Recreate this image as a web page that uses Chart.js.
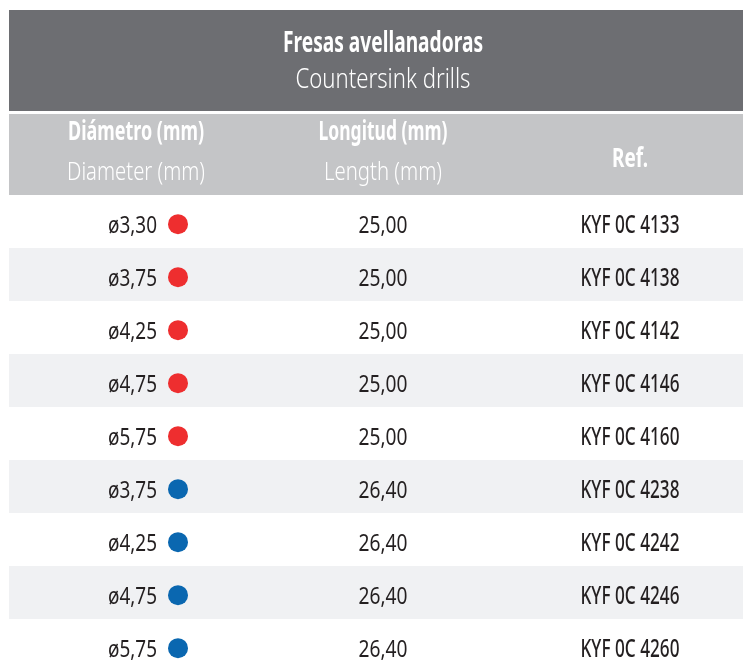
<!DOCTYPE html>
<html>
<head>
<meta charset="utf-8">
<script src="https://cdn.jsdelivr.net/npm/chart.js@4.4.0/dist/chart.umd.min.js"></script>
<style>
  html, body { margin: 0; padding: 0; background: #fff; }
  canvas { display: block; }
</style>
</head>
<body>
<canvas id="tabla" width="743" height="660"></canvas>
<script>
// Datos de la tabla
const titulo = ['Fresas avellanadoras', 'Countersink drills'];
const cabeceras = [
    ['Diámetro (mm)', 'Diameter (mm)'],
    ['Longitud (mm)', 'Length (mm)'],
    ['Ref.']
];
const diametros = ['ø3,30', 'ø3,75', 'ø4,25', 'ø4,75', 'ø5,75', 'ø3,75', 'ø4,25', 'ø4,75', 'ø5,75'];
const longitudes = ['25,00', '25,00', '25,00', '25,00', '25,00', '26,40', '26,40', '26,40', '26,40'];
const referencias = ['KYF 0C 4133', 'KYF 0C 4138', 'KYF 0C 4142', 'KYF 0C 4146', 'KYF 0C 4160',
                     'KYF 0C 4238', 'KYF 0C 4242', 'KYF 0C 4246', 'KYF 0C 4260'];
const grupos = ['rojo', 'rojo', 'rojo', 'rojo', 'rojo', 'azul', 'azul', 'azul', 'azul'];

const colores = { rojo: '#ee2e2f', azul: '#0a67b0' };
const ALTO_FILA = 53;
const INICIO_FILAS = 195;
const COL_ANCHO = 247;     // distancia entre centros de columna
const COL0 = 136;          // centro de la primera columna
const IZQ = 9;
const PUNTO_X = (178 - COL0) / COL_ANCHO;  // el punto va a la derecha del diámetro

const fuente = "'Noto Sans', 'DejaVu Sans', sans-serif";
const colorTexto = '#231f20';

// dibuja texto comprimido horizontalmente; si se da ancho, se ajusta a él
function texto(ctx, s, x, y, font, color, align, sx, ancho) {
    ctx.save();
    ctx.font = font;
    ctx.fillStyle = color;
    ctx.textAlign = align;
    ctx.textBaseline = 'alphabetic';
    if (ancho) sx = ancho / ctx.measureText(s).width;
    ctx.translate(x, y);
    ctx.scale(sx, 1);
    ctx.fillText(s, 0, 0);
    ctx.restore();
}

function escala(ctx, muestra, font, ancho) {
    ctx.save();
    ctx.font = font;
    const w = ctx.measureText(muestra).width;
    ctx.restore();
    return ancho / w;
}

const tablaPlugin = {
    id: 'tabla',
    beforeDraw(chart) {
        const ctx = chart.ctx;
        const area = chart.chartArea;
        const x = chart.scales.x;
        const y = chart.scales.y;

        ctx.save();
        ctx.fillStyle = '#ffffff';
        ctx.fillRect(0, 0, chart.width, chart.height);

        // cabeceras
        ctx.fillStyle = '#6d6e72';
        ctx.fillRect(area.left, 10, area.right - area.left, 101);
        ctx.fillStyle = '#c4c5c7';
        ctx.fillRect(area.left, 114, area.right - area.left, INICIO_FILAS - 114);

        // filas alternas
        ctx.fillStyle = '#f0f1f3';
        diametros.forEach((d, i) => {
            if (i % 2 === 1) {
                const y0 = y.getPixelForValue(i - 0.5);
                const y1 = y.getPixelForValue(i + 0.5);
                ctx.fillRect(area.left, y0, area.right - area.left, y1 - y0);
            }
        });
        ctx.restore();

        const cx = x.getPixelForValue(1);
        texto(ctx, titulo[0], cx, 52, "bold 28px " + fuente, '#ffffff', 'center', 1, 200);
        texto(ctx, titulo[1], cx, 88, "300 28px " + fuente, '#ffffff', 'center', 1, 175);

        const anchos = [[136, 138], [129, 118], [36]];
        cabeceras.forEach((c, j) => {
            const px = x.getPixelForValue(j);
            if (c.length === 2) {
                texto(ctx, c[0], px, 140, "bold 26px " + fuente, '#ffffff', 'center', 1, anchos[j][0]);
                texto(ctx, c[1], px, 180, "300 26px " + fuente, '#ffffff', 'center', 1, anchos[j][1]);
            } else {
                texto(ctx, c[0], px, 167, "bold 26px " + fuente, '#ffffff', 'center', 1, anchos[j][0]);
            }
        });

        // celdas
        const f = "24px " + fuente;
        const fr = "500 26px " + fuente;
        const sxD = escala(ctx, 'ø3,30', f, 49);
        const sxL = escala(ctx, '25,00', f, 49);
        const sxR = escala(ctx, 'KYF 0C 4133', fr, 99);
        diametros.forEach((d, i) => {
            const py = y.getPixelForValue(i) + 11;
            texto(ctx, d, x.getPixelForValue(0) + 21, py, f, colorTexto, 'right', sxD);
            texto(ctx, longitudes[i], x.getPixelForValue(1), py, f, colorTexto, 'center', sxL);
            texto(ctx, referencias[i], x.getPixelForValue(2), py, fr, colorTexto, 'center', sxR);
        });
    }
};

function puntos(grupo) {
    const datos = [];
    grupos.forEach((g, i) => {
        if (g === grupo) datos.push({ x: PUNTO_X, y: i + 0.05 });
    });
    return datos;
}

const ctx = document.getElementById('tabla').getContext('2d');
new Chart(ctx, {
    type: 'scatter',
    data: {
        datasets: [
            { label: 'rojo', data: puntos('rojo'), backgroundColor: colores.rojo, borderWidth: 0, pointRadius: 10 },
            { label: 'azul', data: puntos('azul'), backgroundColor: colores.azul, borderWidth: 0, pointRadius: 10 }
        ]
    },
    options: {
        responsive: false,
        animation: false,
        events: [],
        layout: { autoPadding: false, padding: { top: INICIO_FILAS, left: IZQ, right: 0, bottom: 0 } },
        plugins: { legend: { display: false }, tooltip: { enabled: false } },
        scales: {
            x: {
                type: 'linear', display: false,
                min: (IZQ - COL0) / COL_ANCHO,
                max: (743 - COL0) / COL_ANCHO
            },
            y: {
                type: 'linear', display: false, reverse: true,
                min: -0.5,
                max: -0.5 + (660 - INICIO_FILAS) / ALTO_FILA
            }
        }
    },
    plugins: [tablaPlugin]
});
</script>
</body>
</html>
